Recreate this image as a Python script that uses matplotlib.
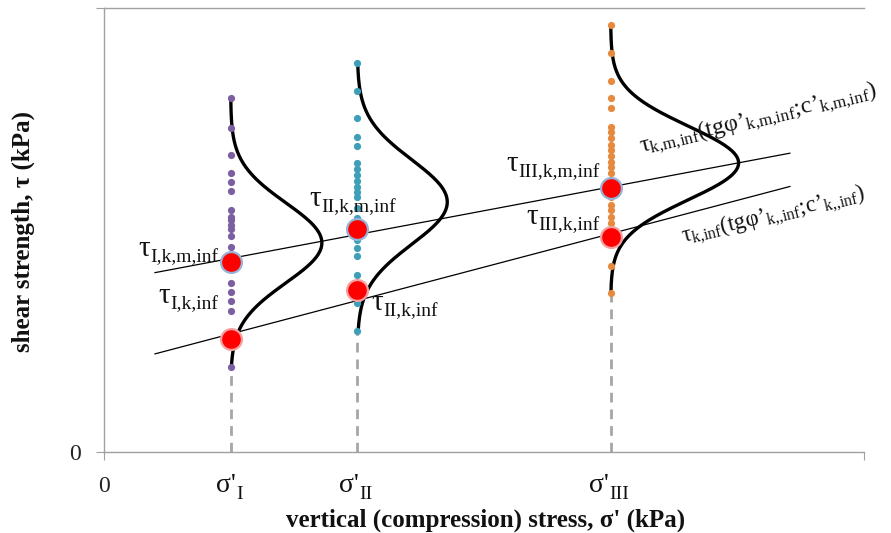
import numpy as np
import matplotlib
matplotlib.use("Agg")
import matplotlib.pyplot as plt

plt.rcParams['font.family'] = ['Liberation Serif', 'DejaVu Serif']
plt.rcParams['mathtext.fontset'] = 'custom'
plt.rcParams['mathtext.rm'] = 'Liberation Serif'
plt.rcParams['mathtext.it'] = 'Liberation Serif:italic'
plt.rcParams['mathtext.bf'] = 'Liberation Serif:bold'

# ---- data ----
sigma_x = [20, 40, 80]          # σ'_I, σ'_II, σ'_III
sigma_subs = ['I', 'II', 'III']

dots_I = [79.7, 73.0, 66.9, 62.8, 60.8, 58.8, 54.5, 52.9, 52.3, 51.1, 50.2, 48.6,
          46.2, 42.8, 38.1, 36.0, 34.0, 31.8, 25.7, 19.1]
dots_II = [87.6, 81.3, 75.2, 70.9, 68.9, 65.1, 63.7, 62.4, 61.0, 59.7, 58.6, 57.4,
           55.0, 52.7, 50.2, 47.7, 45.9, 44.1, 39.9, 36.5, 33.6, 27.3]
dots_III = [96.2, 89.9, 83.6, 79.7, 77.5, 73.2, 72.1, 70.7, 69.1, 68.0, 66.7, 65.3,
            64.2, 62.8, 61.3, 59.5, 57.4, 55.6, 54.5, 52.9, 51.6, 48.2, 41.9, 35.8]
dot_colors = ['#7B5FA0', '#3F9FB8', '#E58A3E']

# characteristic mean values (upper line) and characteristic values (lower line)
tau_km = [42.8, 50.2, 59.5]
tau_k = [25.5, 36.5, 48.4]

line_x = [8.05, 108.3]
line_km_y = [40.4, 67.3]
line_k_y = [22.1, 59.8]

# normal distribution curves (peak level, peak width, standard deviation)
curve_peak = [47.1, 56.3, 65.1]
curve_amp = [14.4, 14.2, 20.2]
curve_sd = [9.0, 9.5, 8.3]

XMAX, YMAX = 120, 100
P = '\u2019'  # prime-like apostrophe

fig = plt.figure(figsize=(8.91, 5.33), dpi=100)
ax = fig.add_axes([104/891, 1-452/533, 760/891, 444/533])
ax.set_xlim(0, XMAX)
ax.set_ylim(0, YMAX)

ax.spines['right'].set_visible(False)
for s in ['left', 'bottom', 'top']:
    ax.spines[s].set_color('#A0A0A0')
    ax.spines[s].set_linewidth(1.0)

ax.set_xticks([0, XMAX])
ax.set_xticklabels(['0', ''])
ax.set_yticks([0, YMAX])
ax.set_yticklabels(['0', ''])
ax.tick_params(axis='both', direction='out', length=6, color='#A0A0A0',
               labelsize=17, labelcolor='#222222')
ax.tick_params(axis='x', pad=11)
ax.tick_params(axis='y', pad=11)

all_dots = [dots_I, dots_II, dots_III]

# dashed gray lines to the x axis
for x, d in zip(sigma_x, all_dots):
    ax.plot([x, x], [0, min(d)], ls=(0, (3.5, 2.5)), color='#A6A6A6', lw=2.0, zorder=1)

# bell curves
for x, d, pk, a, sd in zip(sigma_x, all_dots, curve_peak, curve_amp, curve_sd):
    yy = np.linspace(min(d), max(d), 300)
    xx = x + a * np.exp(-0.5 * ((yy - pk) / sd) ** 2)
    ax.plot(xx, yy, color='black', lw=2.4, zorder=3, solid_capstyle='round')

# dots
for x, d, c in zip(sigma_x, all_dots, dot_colors):
    ax.plot([x] * len(d), d, 'o', color=c, ms=5.2, mec='none', zorder=4)

# straight lines
ax.plot(line_x, line_km_y, color='black', lw=0.9, zorder=5)
ax.plot(line_x, line_k_y, color='black', lw=0.9, zorder=5)

# red points
ax.plot(sigma_x, tau_km, 'o', ms=15, color='#FF0000', mec='#95B3D7', mew=1.6, zorder=6)
ax.plot(sigma_x, tau_k, 'o', ms=15, color='#FF0000', mec='#F3A0A0', mew=1.6, zorder=6)

def px2d(px, py):
    return ((px - 104) / 760 * XMAX, (452 - py) / 444 * YMAX)

def label_with_sub(x, y, main, subtxt, fs_main, fs_sub, transform=None, dy=0):
    kw = {} if transform is None else {'transform': transform}
    t = ax.text(x, y, main, ha='left', va='baseline', fontsize=fs_main, color='#111111',
                zorder=7, **kw)
    ax.annotate(subtxt, xy=(1, 0), xycoords=t, xytext=(0.5, dy), textcoords='offset points',
                ha='left', va='baseline', fontsize=fs_sub, color='#111111', zorder=7)
    return t

# tick labels for σ'
trans = ax.get_xaxis_transform()
sig_off = [-2.3, -2.9, -3.5]
for x, s, o in zip(sigma_x, sigma_subs, sig_off):
    label_with_sub(x + o, -0.09, "σ'", s, 20, 14, transform=trans, dy=-1)

labels = [
    ('I,k,m,inf', 138, 256),
    ('I,k,inf', 158, 303),
    ('II,k,m,inf', 309, 206),
    ('II,k,inf', 371, 310),
    ('III,k,m,inf', 506, 171),
    ('III,k,inf', 526, 224),
]
for s, px, py in labels:
    x, y = px2d(px, py)
    label_with_sub(x, y, 'τ', s, 21, 14)

x, y = px2d(641, 153)
ax.text(x, y, r"$\mathrm{τ}_{\mathrm{k{,}m{,}inf}}\mathrm{(tgφ" + P + r"}_{\mathrm{k{,}m{,}inf}}\mathrm{;}\!\mathrm{c" + P + r"}_{\mathrm{k{,}m{,}inf}}\mathrm{)}$",
        rotation=13.5, rotation_mode='anchor', ha='left', va='baseline', fontsize=17.5, color='#111111')
x, y = px2d(683, 243)
ax.text(x, y, r"$\mathrm{τ}_{\mathrm{k{,}inf}}\mathrm{(tgφ" + P + r"}_{\mathrm{k{,}{,}inf}}\mathrm{;}\!\mathrm{c" + P + r"}_{\mathrm{k{,}{,}inf}}\mathrm{)}$",
        rotation=13.5, rotation_mode='anchor', ha='left', va='baseline', fontsize=16.5, color='#111111')

fig.text(486/891, 1-520/533, "vertical (compression) stress, σ' (kPa)", ha='center', va='center',
         fontsize=18, fontweight='bold', color='#111111')
fig.text(23/891, 1-231/533, "shear strength, τ (kPa)", ha='center', va='center', rotation=90,
         fontsize=18, fontweight='bold', color='#111111')

fig.savefig('out.png', dpi=100)
